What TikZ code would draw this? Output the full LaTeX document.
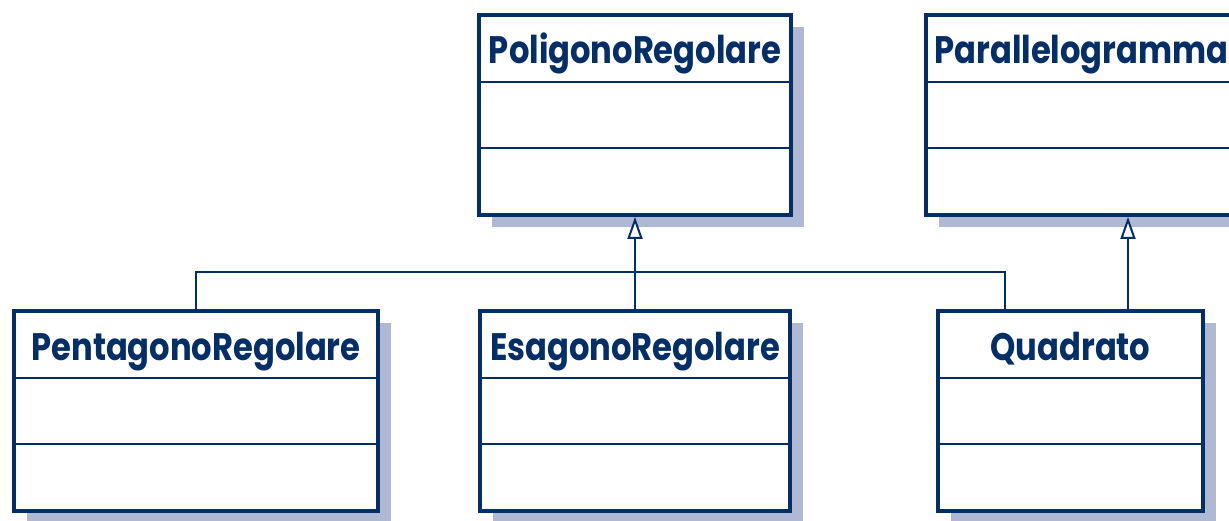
\documentclass[tikz,border=0pt]{standalone}
\usepackage{fontspec}
\newfontfamily\classfont{Poppins}[FakeStretch=0.84]
\usetikzlibrary{arrows.meta,positioning,calc,backgrounds}
\definecolor{umlnavy}{RGB}{4,46,104}
\definecolor{umlshadow}{RGB}{176,185,211}

\tikzset{
  classhead/.style={draw=umlnavy, line width=0.04cm, fill=white, text=umlnavy,
    font=\classfont\bfseries\fontsize{21.8}{24}\selectfont,
    inner sep=0pt, outer sep=0pt, minimum height=1.34cm,
    text height=0.98cm, text depth=0.36cm},
  classpart/.style={draw=umlnavy, line width=0.04cm, fill=white,
    inner sep=0pt, outer sep=0pt, minimum height=1.33cm},
  classframe/.style={draw=umlnavy, line width=0.08cm},
  classshadow/.style={fill=umlshadow},
  link/.style={draw=umlnavy, line width=0.04cm},
  inherit/.style={link, shorten >=0.04cm,
    -{Triangle[open, fill=white, length=0.44cm, width=0.30cm]}}
}

\begin{document}
\begin{tikzpicture}[x=0.02cm, y=-0.02cm]
  \path[use as bounding box, clip] (0,0) rectangle (1229,520);

  % Superclass: PoligonoRegolare
  \node[classhead, minimum width=6.24cm] (poly) at (635,48.5) {PoligonoRegolare};
  \node[classpart, minimum width=6.24cm, below=0pt of poly] (poly-attr) {};
  \node[classpart, minimum width=6.24cm, below=0pt of poly-attr] (poly-ops) {};
  \draw[classframe] (poly.north west) rectangle (poly-ops.south east);

  % Superclass: Parallelogramma
  \node[classhead, minimum width=6.24cm] (para) at (1081.5,48.5) {Parallelogramma};
  \node[classpart, minimum width=6.24cm, below=0pt of para] (para-attr) {};
  \node[classpart, minimum width=6.24cm, below=0pt of para-attr] (para-ops) {};
  \draw[classframe] (para.north west) rectangle (para-ops.south east);

  % Subclass: PentagonoRegolare
  \node[classhead, minimum width=7.28cm] (pent) at (196,344.5) {PentagonoRegolare};
  \node[classpart, minimum width=7.28cm, below=0pt of pent] (pent-attr) {};
  \node[classpart, minimum width=7.28cm, below=0pt of pent-attr] (pent-ops) {};
  \draw[classframe] (pent.north west) rectangle (pent-ops.south east);

  % Subclass: EsagonoRegolare
  \node[classhead, minimum width=6.22cm] (esag) at (635,344.5) {EsagonoRegolare};
  \node[classpart, minimum width=6.22cm, below=0pt of esag] (esag-attr) {};
  \node[classpart, minimum width=6.22cm, below=0pt of esag-attr] (esag-ops) {};
  \draw[classframe] (esag.north west) rectangle (esag-ops.south east);

  % Subclass: Quadrato
  \node[classhead, minimum width=5.30cm] (quad) at (1070.5,344.5) {Quadrato};
  \node[classpart, minimum width=5.30cm, below=0pt of quad] (quad-attr) {};
  \node[classpart, minimum width=5.30cm, below=0pt of quad-attr] (quad-ops) {};
  \draw[classframe] (quad.north west) rectangle (quad-ops.south east);

  % Drop shadows
  \begin{scope}[on background layer]
    \fill[classshadow] ([shift={(13,12)}]poly.north west) rectangle ([shift={(13,12)}]poly-ops.south east);
    \fill[classshadow] ([shift={(13,12)}]para.north west) rectangle ([shift={(13,12)}]para-ops.south east);
    \fill[classshadow] ([shift={(13,12)}]pent.north west) rectangle ([shift={(13,12)}]pent-ops.south east);
    \fill[classshadow] ([shift={(13,12)}]esag.north west) rectangle ([shift={(13,12)}]esag-ops.south east);
    \fill[classshadow] ([shift={(13,12)}]quad.north west) rectangle ([shift={(13,12)}]quad-ops.south east);
  \end{scope}

  % Generalisations
  \coordinate (junction) at (635,272);
  \draw[link] (pent.north) |- (junction) -| ([xshift=-1.31cm]quad.north);
  \draw[inherit] (esag.north) -- (poly-ops.south);
  \draw[inherit] ([xshift=1.15cm]quad.north) -- ([xshift=1.15cm]quad.north |- para-ops.south);
\end{tikzpicture}
\end{document}
